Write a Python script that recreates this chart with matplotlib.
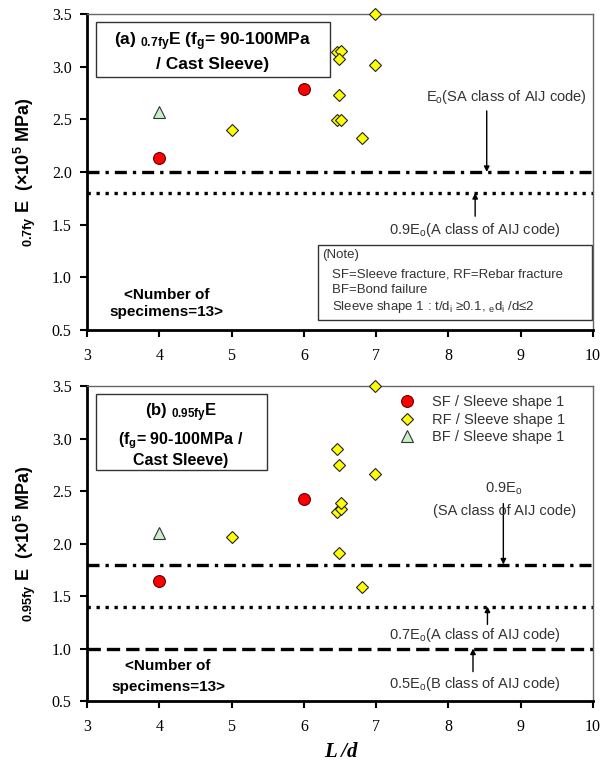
import matplotlib
matplotlib.use("Agg")
import matplotlib.pyplot as plt
from matplotlib.patches import Rectangle

plt.rcParams["font.family"] = ["Liberation Sans", "DejaVu Sans"]
plt.rcParams["mathtext.fontset"] = "custom"
plt.rcParams["mathtext.rm"] = "Liberation Sans"
plt.rcParams["mathtext.bf"] = "Liberation Sans:bold"
plt.rcParams["mathtext.it"] = "Liberation Sans:italic"

# (a) 0.7fy E
a_sf_x = [4, 6]
a_sf_y = [2.13, 2.79]
a_rf_x = [5, 6.46, 6.52, 6.49, 6.49, 6.46, 6.52, 6.8, 6.98, 6.98]
a_rf_y = [2.40, 3.14, 3.15, 3.07, 2.73, 2.49, 2.49, 2.32, 3.50, 3.02]
a_bf_x = [4]
a_bf_y = [2.57]

# (b) 0.95fy E
b_sf_x = [4, 6]
b_sf_y = [1.64, 2.42]
b_rf_x = [5, 6.46, 6.49, 6.46, 6.52, 6.52, 6.49, 6.8, 6.98, 6.98]
b_rf_y = [2.06, 2.90, 2.75, 2.30, 2.33, 2.39, 1.91, 1.59, 3.50, 2.66]
b_bf_x = [4]
b_bf_y = [2.10]

xticks = [3, 4, 5, 6, 7, 8, 9, 10]
yticks = [0.5, 1.0, 1.5, 2.0, 2.5, 3.0, 3.5]

dashdot = (0, (3.6, 1.8, 1.0, 1.8))
dotted = (0, (1.0, 1.7))
dashed = (0, (4.0, 1.8))
gray = "#333333"

fig = plt.figure(figsize=(6.10, 7.69), dpi=100)
ax1 = fig.add_axes([0.1426, 0.5709, 0.8295, 0.4109])
ax2 = fig.add_axes([0.1426, 0.0884, 0.8295, 0.4096])


def points(ax, sx, sy, rx, ry, bx, by):
    ax.plot(sx, sy, "o", ms=8.5, mfc="#ff0000", mec="#600000", mew=0.8,
            label="SF / Sleeve shape 1", clip_on=False, zorder=5)
    ax.plot(rx, ry, "D", ms=6.2, mfc="#ffff00", mec="#222222", mew=0.8,
            label="RF / Sleeve shape 1", clip_on=False, zorder=5)
    ax.plot(bx, by, "^", ms=8, mfc="#c8f0c8", mec="#333333", mew=0.8,
            label="BF / Sleeve shape 1", clip_on=False, zorder=5)


def frame(ax, ylab):
    ax.set_xlim(3, 10)
    ax.set_ylim(0.5, 3.5)
    ax.set_xticks(xticks)
    ax.set_yticks(yticks)
    ax.set_xticklabels([str(t) for t in xticks], family="Liberation Serif", fontsize=11.5)
    ax.set_yticklabels(["%.1f" % t for t in yticks], family="Liberation Serif", fontsize=11.5)
    ax.tick_params(direction="out", length=5, width=1.5, pad=6)
    ax.tick_params(axis="x", pad=8)
    for s in ["left", "bottom"]:
        ax.spines[s].set_linewidth(2)
        ax.spines[s].set_color("black")
    for s in ["top", "right"]:
        ax.spines[s].set_linewidth(1)
        ax.spines[s].set_color("#666666")
    ax.set_ylabel(ylab, fontsize=13, fontweight="bold", labelpad=10)


def specimens(ax, x, y1, y2):
    ax.text(x, y1, "<Number of", ha="center", va="center", fontsize=11, fontweight="bold")
    ax.text(x, y2, "specimens=13>", ha="center", va="center", fontsize=11, fontweight="bold")


def note(ax, x, y_from, y_to, s, tx, ty):
    ax.annotate("", xy=(x, y_to), xytext=(x, y_from),
                arrowprops=dict(arrowstyle="-|>", color="black", lw=1, mutation_scale=8,
                                shrinkA=0, shrinkB=0))
    ax.text(tx, ty, s, ha="center", va="center", fontsize=10.5, color=gray)


# ---- panel (a)
points(ax1, a_sf_x, a_sf_y, a_rf_x, a_rf_y, a_bf_x, a_bf_y)
ax1.axhline(2.0, color="black", lw=2.4, ls=dashdot)
ax1.axhline(1.8, color="black", lw=2.4, ls=dotted)
frame(ax1, r"$\mathbf{{}_{0.7fy}}$ E  (×10$\mathbf{^5}$ MPa)")

ax1.add_patch(Rectangle((0.018, 0.80), 0.462, 0.175, transform=ax1.transAxes,
                        fill=False, ec="#333333", lw=1))
ax1.text(0.249, 0.911, r"(a) $\mathbf{{}_{0.7fy}}$E (f$\mathbf{_g}$= 90-100MPa",
         transform=ax1.transAxes, ha="center", va="center", fontsize=12.5, fontweight="bold")
ax1.text(0.249, 0.839, "/ Cast Sleeve)", transform=ax1.transAxes,
         ha="center", va="center", fontsize=12.5, fontweight="bold")

note(ax1, 8.53, 2.58, 2.0, r"E$_\mathrm{o}$(SA class of AIJ code)", 8.8, 2.71)
note(ax1, 8.37, 1.58, 1.8, r"0.9E$_\mathrm{o}$(A class of AIJ code)", 8.37, 1.45)

ax1.add_patch(Rectangle((0.456, 0.032), 0.542, 0.237, transform=ax1.transAxes,
                        fill=False, ec="#333333", lw=1))
ax1.text(0.464, 0.237, "(Note)", transform=ax1.transAxes, va="center", fontsize=9.5, color=gray)
ax1.text(0.484, 0.174, "SF=Sleeve fracture, RF=Rebar fracture", transform=ax1.transAxes,
         va="center", fontsize=9.5, color=gray)
ax1.text(0.484, 0.127, "BF=Bond failure", transform=ax1.transAxes,
         va="center", fontsize=9.5, color=gray)
ax1.text(0.484, 0.073, r"Sleeve shape 1 : t/d$_\mathrm{i}$ ≥0.1, $_\mathrm{e}$d$_\mathrm{i}$ /d≤2",
         transform=ax1.transAxes, va="center", fontsize=9.5, color=gray)

specimens(ax1, 4.1, 0.83, 0.67)

# ---- panel (b)
points(ax2, b_sf_x, b_sf_y, b_rf_x, b_rf_y, b_bf_x, b_bf_y)
ax2.axhline(1.8, color="black", lw=2.4, ls=dashdot)
ax2.axhline(1.4, color="black", lw=2.4, ls=dotted)
ax2.axhline(1.0, color="black", lw=2.4, ls=dashed)
frame(ax2, r"$\mathbf{{}_{0.95fy}}$ E  (×10$\mathbf{^5}$ MPa)")

ax2.add_patch(Rectangle((0.018, 0.733), 0.337, 0.242, transform=ax2.transAxes,
                        fill=False, ec="#333333", lw=1))
ax2.text(0.186, 0.914, r"(b) $\mathbf{{}_{0.95fy}}$E", transform=ax2.transAxes,
         ha="center", va="center", fontsize=12, fontweight="bold")
ax2.text(0.186, 0.828, r"(f$\mathbf{_g}$= 90-100MPa /", transform=ax2.transAxes,
         ha="center", va="center", fontsize=11.5, fontweight="bold")
ax2.text(0.186, 0.765, "Cast Sleeve)", transform=ax2.transAxes,
         ha="center", va="center", fontsize=11.5, fontweight="bold")

ax2.text(8.76, 2.52, r"0.9E$_\mathrm{o}$", ha="center", va="center", fontsize=10.5, color=gray)
note(ax2, 8.76, 2.38, 1.8, r"(SA class of AIJ code)", 8.78, 2.31)
note(ax2, 8.54, 1.23, 1.4, r"0.7E$_\mathrm{o}$(A class of AIJ code)", 8.37, 1.13)
note(ax2, 8.34, 0.78, 1.0, r"0.5E$_\mathrm{o}$(B class of AIJ code)", 8.37, 0.66)

specimens(ax2, 4.12, 0.83, 0.63)

leg = ax2.legend(loc="upper left", bbox_to_anchor=(0.607, 0.99), frameon=False,
                 fontsize=10.5, handletextpad=1.2, labelspacing=0.25,
                 handlelength=1.0, borderaxespad=0)
for t in leg.get_texts():
    t.set_color(gray)

fig.text(0.5592, 0.022, "L /d", ha="center", va="center", fontsize=15,
         family="Liberation Serif", fontweight="bold", style="italic")

fig.savefig("out.png", dpi=100)
